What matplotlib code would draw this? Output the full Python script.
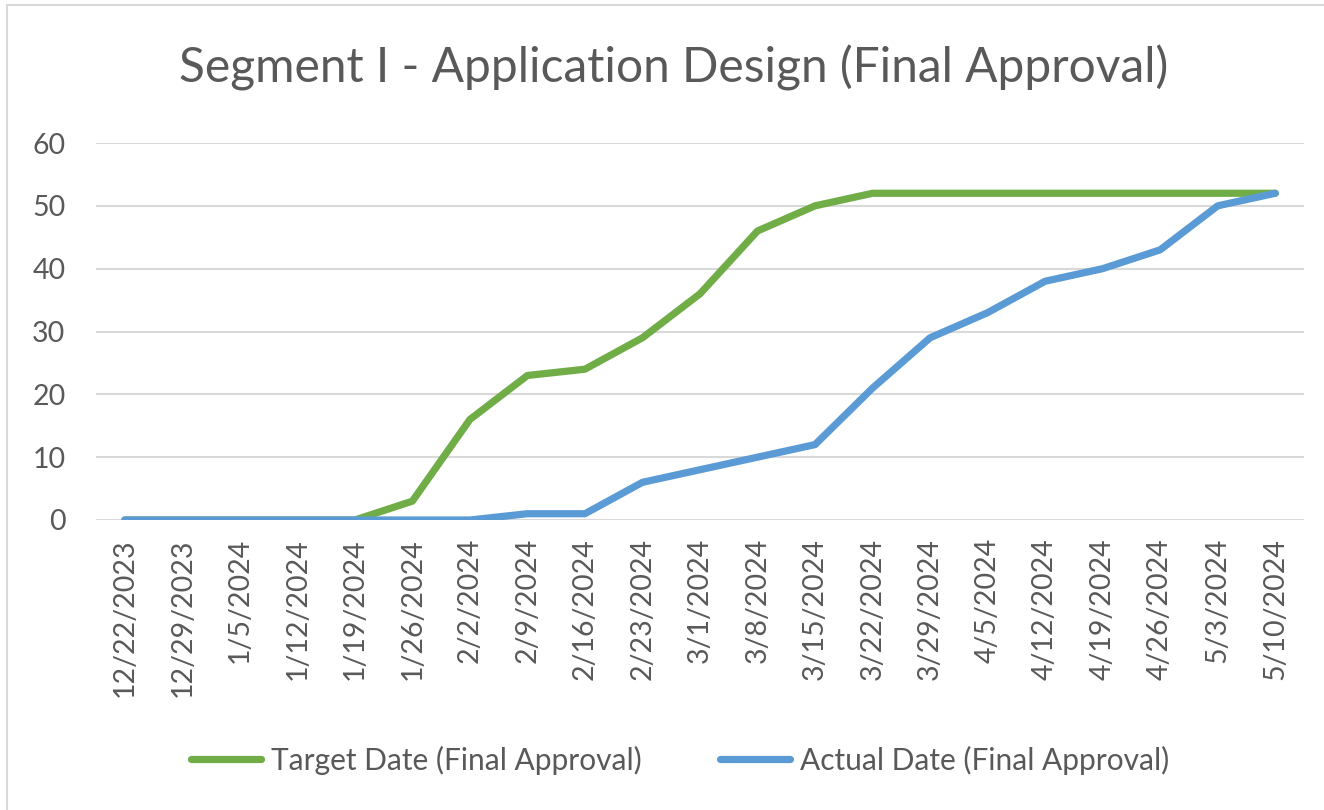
import matplotlib
matplotlib.use("Agg")
import matplotlib.pyplot as plt
from matplotlib.lines import Line2D
from matplotlib.patches import Rectangle

dates = ["12/22/2023", "12/29/2023", "1/5/2024", "1/12/2024", "1/19/2024", "1/26/2024",
         "2/2/2024", "2/9/2024", "2/16/2024", "2/23/2024", "3/1/2024", "3/8/2024",
         "3/15/2024", "3/22/2024", "3/29/2024", "4/5/2024", "4/12/2024", "4/19/2024",
         "4/26/2024", "5/3/2024", "5/10/2024"]
target = [0, 0, 0, 0, 0, 3, 16, 23, 24, 29, 36, 46, 50, 52, 52, 52, 52, 52, 52, 52, 52]
actual = [0, 0, 0, 0, 0, 0, 0, 1, 1, 6, 8, 10, 12, 21, 29, 33, 38, 40, 43, 50, 52]
yticks = [0, 10, 20, 30, 40, 50, 60]

title = "Segment I - Application Design (Final Approval)"
target_label = "Target Date (Final Approval)"
actual_label = "Actual Date (Final Approval)"

GREEN = "#70AD47"
BLUE = "#5B9BD5"
TEXT = "#595959"
GRID = "#D9D9D9"
FONT = ["Lato", "DejaVu Sans"]

plt.rcParams['font.family'] = FONT

W, H = 1324, 810
fig = plt.figure(figsize=(W / 100, H / 100), dpi=100)
fig.patch.set_facecolor("white")

# chart border
fig.patches.append(Rectangle((7 / W, -0.05), 1.1, 1 - 5 / H + 0.05, transform=fig.transFigure,
                             fill=False, edgecolor=GRID, linewidth=1.5))

left, right = 96 / W, 1304 / W
bottom, top = 1 - 520 / H, 1 - 143 / H
ax = fig.add_axes([left, bottom, right - left, top - bottom])

x = list(range(len(dates)))
ax.plot(x, target, color=GREEN, linewidth=5.2, solid_capstyle="round", solid_joinstyle="round", zorder=3)
ax.plot(x, actual, color=BLUE, linewidth=5.2, solid_capstyle="round", solid_joinstyle="round", zorder=4)

ax.set_xlim(-0.5, len(dates) - 0.5)
ax.set_ylim(0, 60)
ax.set_yticks(yticks)
ax.set_yticklabels([str(v) for v in yticks])
ax.set_xticks(x)
ax.set_xticklabels(dates, rotation=90)
ax.tick_params(axis="both", length=0, labelsize=20.5, labelcolor=TEXT)
ax.tick_params(axis="x", pad=13)
ax.tick_params(axis="y", pad=22)
for lbl in ax.get_xticklabels():
    lbl.set_va("top")
ax.grid(axis="y", color=GRID, linewidth=1.5, zorder=0)
ax.set_axisbelow(True)
for s in ax.spines.values():
    s.set_visible(False)

fig.text(674 / W, 1 - 68 / H, title, ha="center", va="center", fontsize=34.5, color=TEXT)

handles = [Line2D([], [], color=GREEN, linewidth=5.2, solid_capstyle="round"),
           Line2D([], [], color=BLUE, linewidth=5.2, solid_capstyle="round")]
leg = fig.legend(handles, [target_label, actual_label], loc="center", bbox_to_anchor=(680 / W, 1 - 760 / H),
                 ncol=2, frameon=False, fontsize=21.5, handlelength=2.35, handletextpad=0.35,
                 columnspacing=2.6, labelcolor=TEXT)

fig.savefig("out.png", dpi=100, facecolor="white")
